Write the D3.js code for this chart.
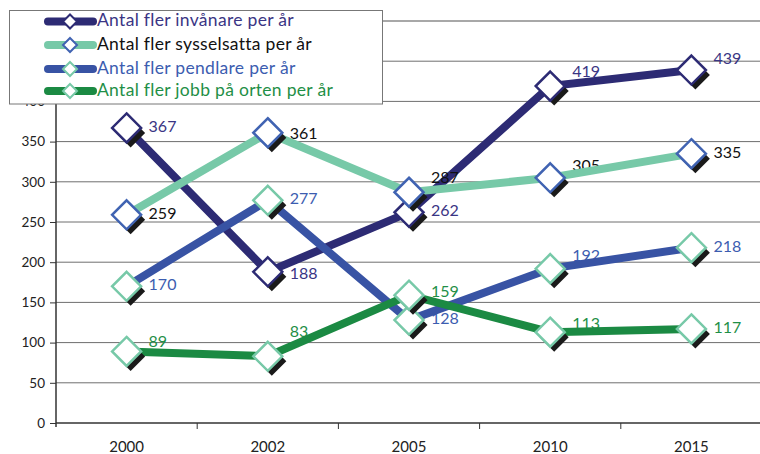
<!DOCTYPE html>
<html><head><meta charset="utf-8">
<script src="https://cdn.jsdelivr.net/npm/d3@7"></script>
<style>body{margin:0;background:#fff}svg{display:block}text{font-family:Lato,"Noto Sans",sans-serif}</style>
</head><body><svg id="c" width="760" height="454"></svg>
<script>
const years = ["2000","2002","2005","2010","2015"];
const invanare = [367,188,262,419,439];
const sysselsatta = [259,361,287,305,335];
const pendlare = [170,277,128,192,218];
const jobb = [89,83,159,113,117];
const seriesNames = ["Antal fler invånare per år","Antal fler sysselsatta per år","Antal fler pendlare per år","Antal fler jobb på orten per år"];
const yTicks = [0,50,100,150,200,250,300,350,400,450,500];

// styles (not data)
const styles = [
  {line:"#2d2b74", mark:"#2d2b74", label:"#3a3584", legendText:"#3a3584", dy:[0,3,0,-13,-10]},
  {line:"#77c9a8", mark:"#4063b2", label:"#111", legendText:"#111", dy:[0,2,-13,-11,0]},
  {line:"#3853a4", mark:"#77c9a8", label:"#3c5db0", legendText:"#3c5db0", dy:[0,0,0,-12,0]},
  {line:"#1b8a43", mark:"#77c9a8", label:"#1f8f47", legendText:"#1f8f47", dy:[-8,-23,-2,-7,0]}
];
const allValues = [invanare, sysselsatta, pendlare, jobb];

const svg = d3.select("#c");
const x = d3.scaleBand().domain(years).range([56, 762]);
const y = d3.scaleLinear().domain([0,500]).range([423, 21]);

// gridlines
svg.append("g").selectAll("line").data(yTicks.filter(d=>d>0)).join("line")
  .attr("x1",56).attr("x2",760).attr("y1",d=>y(d)).attr("y2",d=>y(d))
  .attr("stroke",d=>d===500?"#a8a8a8":"#6e6e6e").attr("stroke-width",d=>d===500?2:1);

// y axis
const yAxis = d3.axisLeft(y).tickValues(yTicks).tickSize(6).tickPadding(5);
const gy = svg.append("g").attr("transform","translate(56,0)").call(yAxis);
gy.select(".domain").remove();
gy.append("line").attr("x1",0).attr("x2",0).attr("y1",y(500)).attr("y2",427).attr("stroke","#333").attr("stroke-width",1.5);
gy.selectAll(".tick line").attr("stroke","#333");
gy.selectAll(".tick text").attr("font-size",13.5).attr("fill","#222").style("font-family","Lato,sans-serif");

// x axis
const xAxis = d3.axisBottom(x).tickSize(0).tickPadding(18);
const gx = svg.append("g").attr("transform","translate(0,423)").call(xAxis);
gx.select(".domain").remove();
gx.append("line").attr("x1",56).attr("x2",760).attr("y1",0).attr("y2",0).attr("stroke","#333").attr("stroke-width",1.5);
gx.selectAll(".tick text").attr("font-size",15).attr("fill","#222").style("font-family","Lato,sans-serif");
gx.selectAll(".sep").data(years.slice(1)).join("line").attr("class","sep")
  .attr("x1",d=>x(d)).attr("x2",d=>x(d)).attr("y1",0).attr("y2",6).attr("stroke","#333");

const cx = d => x(d) + x.bandwidth()/2;
const diamond = (h) => `M0,${-h}L${h},0L0,${h}L${-h},0Z`;

allValues.forEach((vals, si) => {
  const st = styles[si];
  const pts = years.map((yr,i)=>({yr, v:vals[i], i}));
  const g = svg.append("g");
  // labels (beneath own line)
  g.selectAll("text.lab").data(pts).join("text").attr("class","lab")
    .attr("x",d=>cx(d.yr)+22).attr("y",d=>y(d.v)+st.dy[d.i])
    .attr("dominant-baseline","middle").attr("font-size",16).attr("fill",st.label)
    .text(d=>d.v);
  // line
  g.append("path").datum(pts)
    .attr("d", d3.line().x(d=>cx(d.yr)).y(d=>y(d.v)))
    .attr("fill","none").attr("stroke",st.line).attr("stroke-width",8).attr("stroke-linejoin","miter");
  // markers
  const m = g.selectAll("g.m").data(pts).join("g").attr("class","m")
    .attr("transform",d=>`translate(${cx(d.yr)},${y(d.v)})`);
  m.append("path").attr("d",diamond(14.5)).attr("transform","translate(4,5)").attr("fill","#1a1a1a");
  m.append("path").attr("d",diamond(14.5)).attr("fill","#fff").attr("stroke",st.mark).attr("stroke-width",2.5);
});

// legend
const lg = svg.append("g");
lg.append("rect").attr("x",9.5).attr("y",10.5).attr("width",373).attr("height",93.5)
  .attr("fill","#fff").attr("stroke","#777").attr("stroke-width",1);
const rowY = [21.5,45,69,91];
seriesNames.forEach((name, i) => {
  const st = styles[i];
  const r = lg.append("g").attr("transform",`translate(0,${rowY[i]})`);
  r.append("line").attr("x1",48).attr("x2",93).attr("y1",0).attr("y2",0)
    .attr("stroke",st.line).attr("stroke-width",8).attr("stroke-linecap","round");
  r.append("path").attr("d",diamond(7)).attr("transform","translate(70,0)")
    .attr("fill","#fff").attr("stroke",st.mark).attr("stroke-width",2);
  r.append("text").attr("x",97).attr("y",0.5).attr("dominant-baseline","middle")
    .attr("font-size",17.5).attr("letter-spacing",0.3).attr("fill",st.legendText).text(name);
});
</script></body></html>
